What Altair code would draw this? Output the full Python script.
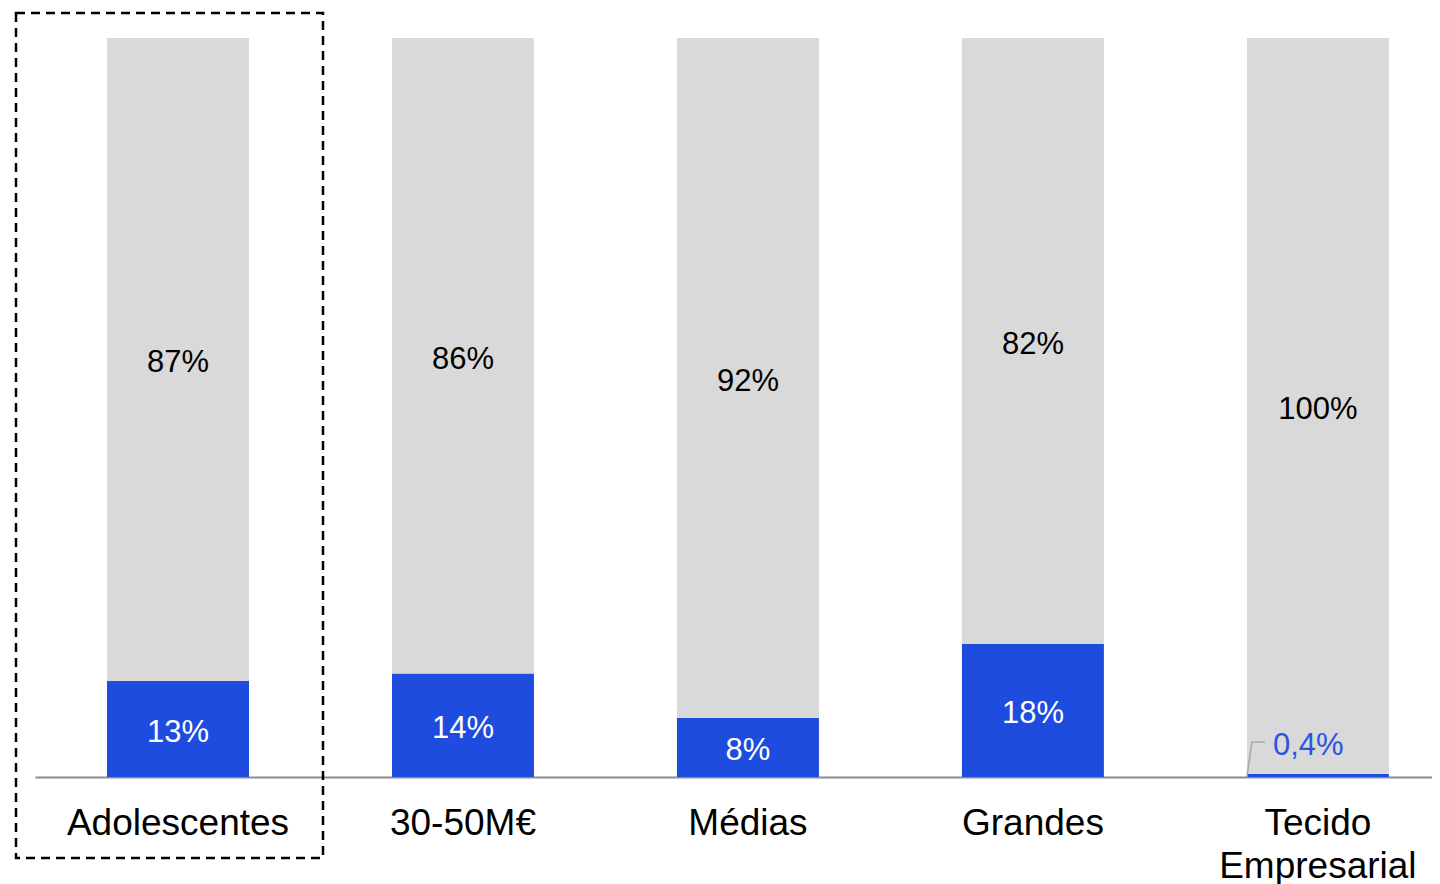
import altair as alt
import pandas as pd

categories = ["Adolescentes", "30-50M€", "Médias", "Grandes", "Tecido Empresarial"]
blue_values = [13, 14, 8, 18, 0.4]
gray_values = [87, 86, 92, 82, 99.6]
blue_labels = ["13%", "14%", "8%", "18%", "0,4%"]
gray_labels = ["87%", "86%", "92%", "82%", "100%"]

BLUE = "#1E4CDE"
GRAY = "#D9D9D9"
FONT = "Liberation Sans"

rows = []
for i, c in enumerate(categories):
    rows.append({"cat": c, "series": "blue", "ord": 0, "value": blue_values[i],
                 "label": blue_labels[i], "fill": BLUE, "tcolor": "white"})
    rows.append({"cat": c, "series": "gray", "ord": 1, "value": gray_values[i],
                 "label": gray_labels[i], "fill": GRAY, "tcolor": "black"})
df = pd.DataFrame(rows)

xscale = alt.Scale(domain=categories, paddingInner=0.5018, paddingOuter=0.202, align=0.6255)
xenc = alt.X("cat:N", scale=xscale, sort=categories,
             axis=alt.Axis(title=None, labelAngle=0, labelFontSize=37, labelFont=FONT,
                           labelColor="black", ticks=False, tickSize=0, labelPadding=28,
                           domainColor="#8C8C8C", domainWidth=2, labelLineHeight=43,
                           labelBaseline="top", labelLimit=0,
                           labelExpr="datum.label == 'Tecido Empresarial' ? ['Tecido', 'Empresarial'] : datum.label"))
yscale = alt.Scale(domain=[0, 100], nice=False)

base = alt.Chart(df).transform_stack(
    stack="value", groupby=["cat"], as_=["y0", "y1"], sort=[alt.SortField("ord")]
).transform_calculate(mid="(datum.y0 + datum.y1) / 2")

bars = base.mark_bar().encode(
    x=xenc,
    y=alt.Y("y0:Q", scale=yscale, axis=None),
    y2="y1:Q",
    color=alt.Color("fill:N", scale=None),
)

labels = base.transform_filter("datum.value >= 1").mark_text(
    font=FONT, fontSize=31, baseline="middle", align="center", dy=4
).encode(
    x=alt.X("cat:N", sort=categories),
    y=alt.Y("mid:Q"),
    text="label:N",
    color=alt.Color("tcolor:N", scale=None),
)

small = base.transform_filter("datum.value < 1")
small_label = small.mark_text(
    font=FONT, fontSize=31, baseline="middle", align="left", dx=-45, dy=-31, color="#2A55E0"
).encode(x=alt.X("cat:N", sort=categories), y=alt.Y("y0:Q"), text="label:N")

leader1 = small.mark_rule(color="#A6A6A6", strokeWidth=1.5, xOffset=-71, x2Offset=-66,
                          y2Offset=-35).encode(
    x=alt.X("cat:N", sort=categories), x2=alt.X2("cat:N"),
    y=alt.Y("y0:Q"), y2=alt.Y2("y0:Q"))
leader2 = small.mark_rule(color="#A6A6A6", strokeWidth=1.5, xOffset=-66, x2Offset=-53,
                          yOffset=-35, y2Offset=-35).encode(
    x=alt.X("cat:N", sort=categories), x2=alt.X2("cat:N"),
    y=alt.Y("y0:Q"), y2=alt.Y2("y0:Q"))

box = alt.Chart(pd.DataFrame({"cat": [categories[0]]})).mark_rect(
    filled=False, stroke="black", strokeWidth=2.5, strokeDash=[9, 6]
).encode(x=alt.value(-19), x2=alt.value(288), y=alt.value(-25), y2=alt.value(820))

chart = alt.layer(bars, labels, small_label, leader1, leader2, box).properties(
    width=1397, height=739,
    autosize=alt.AutoSizeParams(type="none"),
    padding={"left": 27, "top": 30, "right": 0, "bottom": 107},
).configure_view(stroke=None)

chart.save("out.html", embed_options={"renderer": "svg", "actions": False})
